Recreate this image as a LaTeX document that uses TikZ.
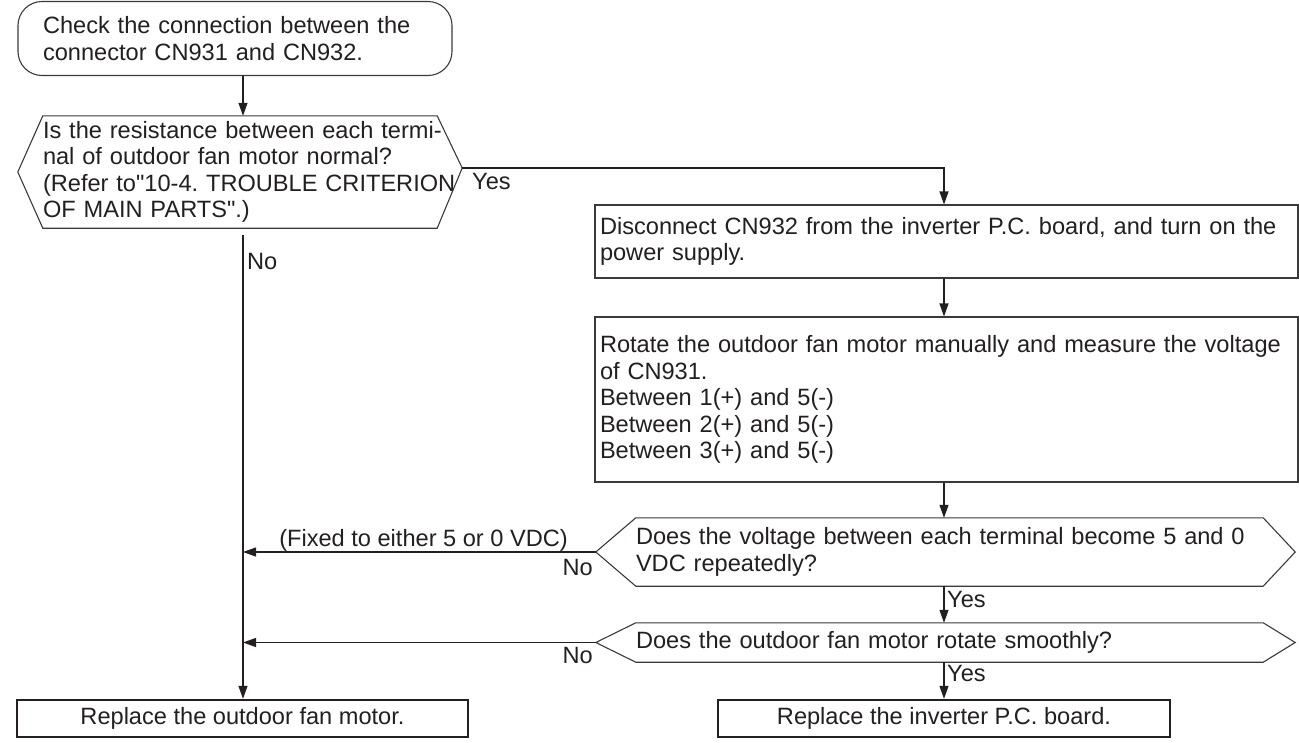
\documentclass[tikz,border=0pt]{standalone}
\usepackage{fontspec}
\setmainfont{Liberation Sans}[Ligatures=TeXOff]
\usetikzlibrary{arrows.meta,calc}
\definecolor{ink}{HTML}{231F20}
\definecolor{edge}{HTML}{3A3A3A}
\newcommand{\tline}[1]{\mbox{#1}}
\begin{document}
\begin{tikzpicture}[x=1pt,y=-1pt,
  every node/.style={font=\fontsize{23.6}{26.5}\selectfont\frenchspacing, text=ink},
  txt/.style={inner sep=0pt, align=left},
  procbox/.style={draw=edge, line width=1.1pt, inner xsep=5pt, inner ysep=0pt, align=left},
  endbox/.style={draw=ink, line width=2.4pt, inner sep=0pt, align=center},
  startbox/.style={draw=edge, line width=1.1pt, rounded corners=24pt, inner xsep=25pt, inner ysep=0pt, align=left},
  decbox/.style={inner sep=0pt, align=left},
  hexline/.style={draw=edge, line width=1.1pt},
  conn/.style={draw=ink, line width=1.2pt},
  arr/.style={conn, -{Triangle[length=13pt,width=9pt]}},
]
\useasboundingbox (0,0) rectangle (1299,742);
\coordinate (colL) at (243,0);
\coordinate (colR) at (944,0);

% start
\node[startbox, text width=384pt, minimum height=74pt] (s) at (235,38.5)
  {\tline{Check the connection between the}\\\tline{connector CN931 and CN932.}};

% decision 1
\node[decbox, text width=394pt, minimum height=112pt] (d1) at (240,172)
  {\tline{Is the resistance between each termi-}\\\tline{nal of outdoor fan motor normal?}\\\tline{(Refer to"10-4. TROUBLE CRITERION}\\\tline{OF MAIN PARTS".)}};
\coordinate (d1e) at ($(d1.east)+(25,-4)$);
\coordinate (d1w) at ($(d1.west)+(-25,0)$);
\draw[hexline] (d1.north west) -- (d1.north east) -- (d1e) -- (d1.south east) -- (d1.south west) -- (d1w) -- cycle;

% process boxes
\node[procbox, text width=693pt, minimum height=73pt] (b2) at (946.5,241.5)
  {\tline{Disconnect CN932 from the inverter P.C. board, and turn on the}\\\tline{power supply.}};
\node[procbox, text width=693pt, minimum height=165pt] (b3) at (946.5,399.5)
  {\tline{Rotate the outdoor fan motor manually and measure the voltage}\\\tline{of CN931.}\\\tline{Between 1(+) and 5(-)}\\\tline{Between 2(+) and 5(-)}\\\tline{Between 3(+) and 5(-)}};

% decision 2
\node[decbox, text width=627pt, minimum height=68pt] (d2) at (949.5,552)
  {\tline{Does the voltage between each terminal become 5 and 0}\\\tline{VDC repeatedly?}};
\coordinate (d2w) at ($(d2.west)+(-40,0)$);
\coordinate (d2e) at ($(d2.east)+(32,0)$);
\draw[hexline] (d2.north west) -- (d2.north east) -- (d2e) -- (d2.south east) -- (d2.south west) -- (d2w) -- cycle;

% decision 3
\node[decbox, text width=627pt, minimum height=39pt] (d3) at (949.5,642.5)
  {\tline{Does the outdoor fan motor rotate smoothly?}};
\coordinate (d3w) at ($(d3.west)+(-40,0)$);
\coordinate (d3e) at ($(d3.east)+(32,0)$);
\draw[hexline] (d3.north west) -- (d3.north east) -- (d3e) -- (d3.south east) -- (d3.south west) -- (d3w) -- cycle;

% end boxes
\node[endbox, minimum width=451pt, minimum height=37pt] (e1) at (242.5,718.5) {Replace the outdoor fan motor.};
\node[endbox, minimum width=452pt, minimum height=37pt] (e2) at (944,718.5) {Replace the inverter P.C. board.};

% connectors
\draw[arr] (s.south -| colL) -- (d1.north -| colL);
\draw[arr] (d1e) -| (b2.north -| colR);
\draw[arr] (b2.south -| colR) -- (b3.north -| colR);
\draw[arr] (b3.south -| colR) -- (d2.north -| colR);
\draw[arr] (d2.south -| colR) -- (d3.north -| colR);
\draw[arr] (d3.south -| colR) -- (e2.north);
\coordinate (nstart) at ($(d1.south -| colL)+(0,7)$);
\draw[arr] (nstart) -- (e1.north -| colL);
\draw[arr] (d2w) -- (d2w -| colL);
\draw[arr] (d3w) -- (d3w -| colL);

% labels
\node[txt, anchor=west] (yes1) at (472,181) {Yes};
\node[txt, anchor=west] (no1) at (247,261) {No};
\node[txt, anchor=east] (fixed) at (568,540) {(Fixed to either 5 or 0 VDC)};
\node[txt, anchor=east] (no2) at (593,567) {No};
\node[txt, anchor=west] (yes2) at (947,599) {Yes};
\node[txt, anchor=east] (no3) at (593,655) {No};
\node[txt, anchor=west] (yes3) at (947,673) {Yes};
\end{tikzpicture}
\end{document}
